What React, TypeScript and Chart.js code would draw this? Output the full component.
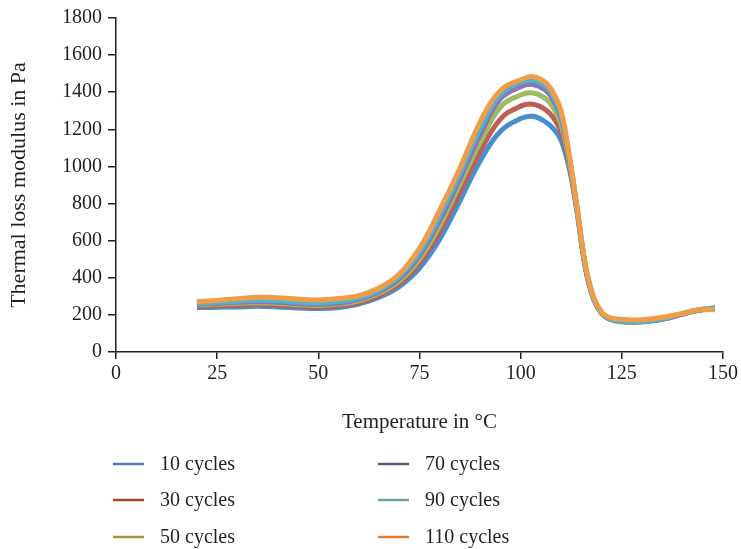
import React, { useEffect, useRef } from "react";
import { Chart, registerables } from "chart.js";

Chart.register(...registerables);

// Temperature (°C) sample positions
const temperatures = [20, 25, 30, 35, 40, 45, 50, 55, 60, 65, 70, 75, 80, 85, 90, 95, 100, 103, 106, 108, 110, 112, 114, 116, 118, 120, 122, 125, 128, 132, 136, 140, 144, 148];

// Thermal loss modulus (Pa) per series
const cycles10 = [240, 241, 243, 246, 243, 237, 234, 240, 258, 295, 352, 452, 608, 815, 1030, 1190, 1258, 1270, 1242, 1205, 1140, 990, 745, 450, 285, 208, 178, 165, 162, 168, 182, 205, 226, 236];
const cycles30 = [246, 248, 252, 256, 252, 245, 242, 248, 266, 305, 367, 478, 645, 862, 1080, 1255, 1325, 1335, 1308, 1265, 1185, 1010, 752, 455, 288, 210, 180, 166, 163, 169, 183, 206, 226, 234];
const cycles50 = [254, 257, 262, 266, 262, 255, 251, 258, 276, 316, 382, 500, 680, 905, 1130, 1320, 1385, 1396, 1368, 1320, 1225, 1030, 758, 458, 288, 208, 176, 162, 160, 166, 180, 204, 225, 232];
const cycles70 = [258, 262, 268, 272, 268, 261, 257, 264, 284, 325, 396, 520, 710, 935, 1172, 1365, 1430, 1442, 1413, 1360, 1260, 1045, 762, 462, 290, 210, 178, 164, 161, 167, 181, 205, 225, 230];
const cycles90 = [263, 267, 274, 280, 276, 269, 265, 272, 292, 334, 407, 538, 735, 962, 1205, 1390, 1452, 1464, 1436, 1380, 1278, 1055, 766, 465, 292, 212, 180, 166, 164, 170, 184, 207, 228, 238];
const cycles110 = [272, 277, 287, 295, 292, 285, 280, 288, 303, 345, 420, 558, 765, 992, 1240, 1410, 1467, 1484, 1455, 1400, 1298, 1065, 770, 470, 298, 216, 186, 176, 173, 178, 190, 208, 227, 228];

const seriesLabels = ["10 cycles", "30 cycles", "50 cycles", "70 cycles", "90 cycles", "110 cycles"];
const xTicks = [0, 25, 50, 75, 100, 125, 150];
const yTicks = [0, 200, 400, 600, 800, 1000, 1200, 1400, 1600, 1800];

const FONT = '"Liberation Serif", "DejaVu Serif", serif';
const TEXT = "#231f20";

export default function App() {
  const ref = useRef<HTMLCanvasElement>(null);

  useEffect(() => {
    if (!ref.current) return;
    const lineColors = ["#4591d0", "#bd5f55", "#9dbb62", "#8e74b0", "#4db4d2", "#f09d4a"];
    const legendColors = ["#4a7ebb", "#a0472f", "#9c9a3a", "#6b4f7b", "#6ea3a6", "#e37a2c"];
    const seriesValues = [cycles10, cycles30, cycles50, cycles70, cycles90, cycles110];

    const datasets = seriesValues.map((vals, i) => ({
      label: seriesLabels[i],
      data: temperatures.map((t, j) => ({ x: t, y: vals[j] })),
      borderColor: lineColors[i],
      backgroundColor: lineColors[i],
      borderWidth: 5,
      pointRadius: 0,
      tension: 0.4,
      fill: false,
      order: seriesValues.length - i,
    }));

    const legendPlugin = {
      id: "columnLegend",
      afterDraw(chart: any) {
        const ctx = chart.ctx as CanvasRenderingContext2D;
        ctx.save();
        ctx.font = `20px ${FONT}`;
        ctx.textBaseline = "middle";
        ctx.textAlign = "left";
        const colX = [113, 378];
        const rowY = [464, 500, 537];
        seriesLabels.forEach((lab, i) => {
          const c = Math.floor(i / 3);
          const r = i % 3;
          ctx.strokeStyle = legendColors[i];
          ctx.lineWidth = 2.5;
          ctx.beginPath();
          ctx.moveTo(colX[c], rowY[r]);
          ctx.lineTo(colX[c] + 31, rowY[r]);
          ctx.stroke();
          ctx.fillStyle = TEXT;
          ctx.fillText(lab, colX[c] + 47, rowY[r] + 1);
        });
        ctx.restore();
      },
    };

    const chart = new Chart(ref.current, {
      type: "line",
      data: { datasets },
      options: {
        animation: false,
        responsive: false,
        devicePixelRatio: 1,
        layout: { padding: { left: 0, top: 16, right: 18, bottom: 0 } },
        plugins: {
          legend: { display: false },
          tooltip: { enabled: false },
        },
        scales: {
          x: {
            type: "linear",
            min: 0,
            max: 150,
            afterBuildTicks: (scale: any) => {
              scale.ticks = xTicks.map((v) => ({ value: v }));
            },
            afterFit: (scale: any) => {
              scale.height = 197;
            },
            ticks: { color: TEXT, font: { family: FONT, size: 20 }, padding: 3, maxRotation: 0, callback: (v: any) => String(v) },
            grid: { display: true, drawOnChartArea: false, drawTicks: true, tickLength: 7, color: TEXT, lineWidth: 1.5 },
            border: { display: true, color: TEXT, width: 1.5 },
            title: { display: true, text: "Temperature in °C", color: TEXT, font: { family: FONT, size: 21 }, padding: { top: 0, bottom: 114 } },
          },
          y: {
            type: "linear",
            min: 0,
            max: 1800,
            afterBuildTicks: (scale: any) => {
              scale.ticks = yTicks.map((v) => ({ value: v }));
            },
            afterFit: (scale: any) => {
              scale.width = 116;
            },
            ticks: { color: TEXT, font: { family: FONT, size: 20 }, padding: 6, callback: (v: any) => String(v) },
            grid: { display: true, drawOnChartArea: false, drawTicks: true, tickLength: 8, color: TEXT, lineWidth: 1.5 },
            border: { display: true, color: TEXT, width: 1.5 },
            title: { display: true, text: "Thermal loss modulus in Pa", color: TEXT, font: { family: FONT, size: 22 }, padding: { top: 6, bottom: 0 } },
          },
        },
      },
      plugins: [legendPlugin],
    });

    return () => chart.destroy();
  }, []);

  return (
    <div style={{ position: "fixed", left: 0, top: 0, width: 741, height: 549, background: "#fff" }}>
      <canvas ref={ref} width={741} height={549} style={{ display: "block" }} />
    </div>
  );
}
